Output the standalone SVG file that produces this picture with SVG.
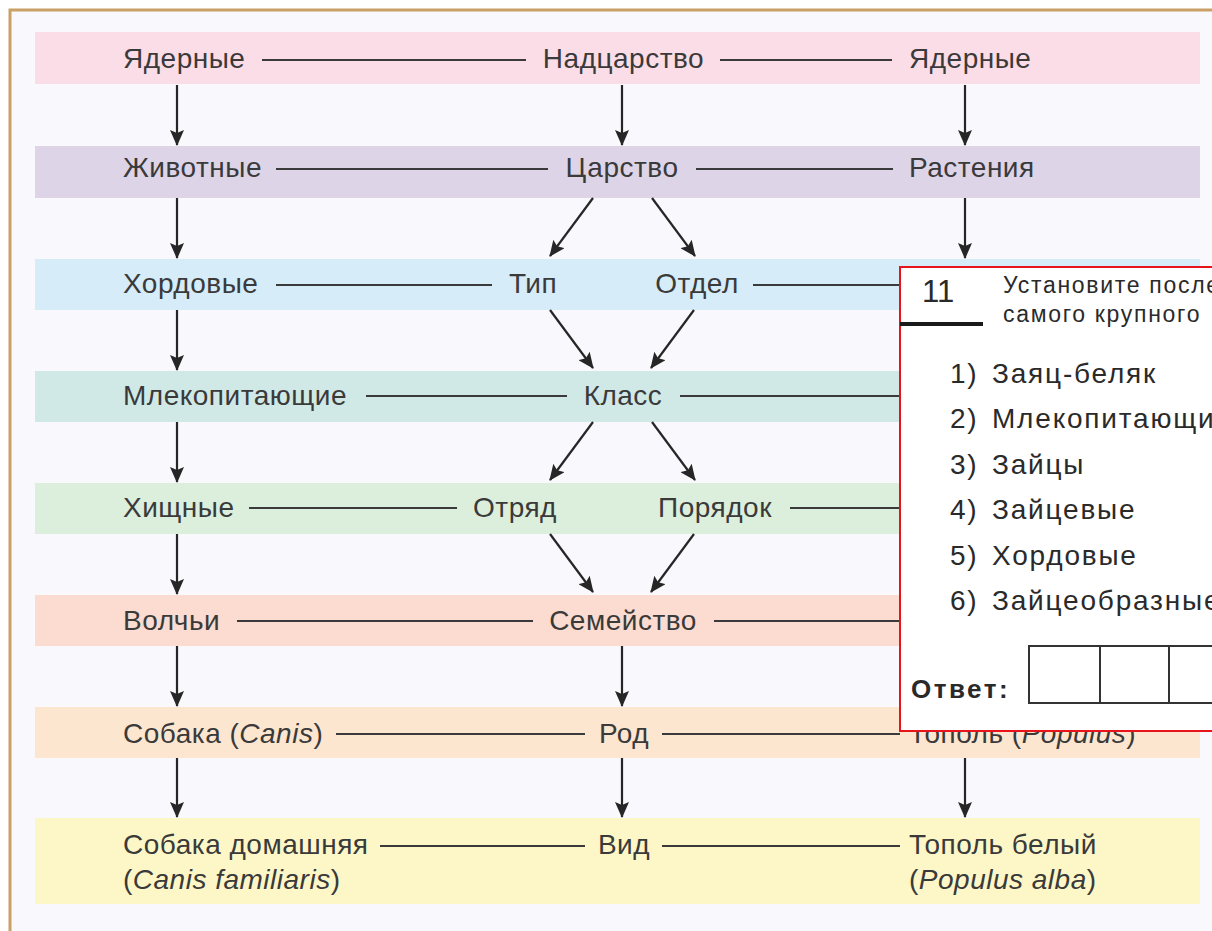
<svg xmlns="http://www.w3.org/2000/svg" width="1212" height="931" viewBox="0 0 1212 931">
<defs>
<marker id="ah" markerUnits="userSpaceOnUse" markerWidth="16" markerHeight="14" refX="15" refY="7" orient="auto">
<path d="M0,0 L16,7 L0,14 L3,7 z" fill="#262626"/>
</marker>
<style>
.t{font-family:"Liberation Sans",Arial,sans-serif;font-size:28px;letter-spacing:0.5px;fill:#3a3a3a}
.i{font-style:italic}
.h{stroke:#3a3a3a;stroke-width:2.2}
.a{stroke:#262626;stroke-width:2.2;fill:none;marker-end:url(#ah)}
.q{font-family:"Liberation Sans",Arial,sans-serif;fill:#2a2a2a}
.hd{font-size:23px;letter-spacing:1.7px}
.li{font-size:28px;letter-spacing:1.8px}
</style>
</defs>
<rect x="0" y="0" width="1212" height="931" fill="#ffffff"/>
<rect x="10" y="10" width="1202" height="921" fill="#f9f8fc"/>
<path d="M10,931 L10,10 L1212,10" fill="none" stroke="#c9a066" stroke-width="3"/>

<g id="bands">
<rect x="35" y="32" width="1165" height="52" fill="#fbdde8"/>
<rect x="35" y="146" width="1165" height="52" fill="#ded4e8"/>
<rect x="35" y="259" width="1165" height="51" fill="#d6ecf8"/>
<rect x="35" y="371" width="1165" height="51" fill="#d0e9e7"/>
<rect x="35" y="483" width="1165" height="51" fill="#dcefdc"/>
<rect x="35" y="595" width="1165" height="51" fill="#fcdcd0"/>
<rect x="35" y="707" width="1165" height="51" fill="#fde6d0"/>
<rect x="35" y="818" width="1165" height="86" fill="#fdf7c8"/>
</g>

<g id="connectors">
<line class="h" x1="262" y1="60" x2="526" y2="60"/>
<line class="h" x1="720" y1="60" x2="892" y2="60"/>
<line class="h" x1="276" y1="169" x2="548" y2="169"/>
<line class="h" x1="696" y1="169" x2="893" y2="169"/>
<line class="h" x1="276" y1="285" x2="492" y2="285"/>
<line class="h" x1="753" y1="285" x2="900" y2="285"/>
<line class="h" x1="366" y1="396" x2="567" y2="396"/>
<line class="h" x1="680" y1="396" x2="900" y2="396"/>
<line class="h" x1="249" y1="508" x2="457" y2="508"/>
<line class="h" x1="790" y1="508" x2="900" y2="508"/>
<line class="h" x1="237" y1="621" x2="533" y2="621"/>
<line class="h" x1="714" y1="621" x2="900" y2="621"/>
<line class="h" x1="336" y1="734" x2="585" y2="734"/>
<line class="h" x1="662" y1="734" x2="900" y2="734"/>
<line class="h" x1="380" y1="846" x2="585" y2="846"/>
<line class="h" x1="662" y1="846" x2="900" y2="846"/>

<line class="a" x1="177" y1="85" x2="177" y2="145"/>
<line class="a" x1="177" y1="198" x2="177" y2="258"/>
<line class="a" x1="177" y1="310" x2="177" y2="370"/>
<line class="a" x1="177" y1="422" x2="177" y2="482"/>
<line class="a" x1="177" y1="534" x2="177" y2="594"/>
<line class="a" x1="177" y1="646" x2="177" y2="706"/>
<line class="a" x1="177" y1="758" x2="177" y2="817"/>

<line class="a" x1="622" y1="85" x2="622" y2="145"/>
<line class="a" x1="622" y1="646" x2="622" y2="706"/>
<line class="a" x1="622" y1="758" x2="622" y2="817"/>

<line class="a" x1="965" y1="85" x2="965" y2="145"/>
<line class="a" x1="965" y1="198" x2="965" y2="258"/>
<line class="a" x1="965" y1="758" x2="965" y2="817"/>

<line class="a" x1="593" y1="198" x2="550" y2="256"/>
<line class="a" x1="652" y1="198" x2="695" y2="256"/>
<line class="a" x1="550" y1="310" x2="593" y2="368"/>
<line class="a" x1="694" y1="310" x2="651" y2="368"/>
<line class="a" x1="593" y1="422" x2="550" y2="480"/>
<line class="a" x1="652" y1="422" x2="695" y2="480"/>
<line class="a" x1="550" y1="534" x2="593" y2="592"/>
<line class="a" x1="694" y1="534" x2="651" y2="592"/>
</g>

<g id="n-yadernye-l"><text class="t" x="123" y="68">Ядерные</text></g>
<g id="n-nadtsarstvo"><text class="t" x="623.5" y="68" text-anchor="middle">Надцарство</text></g>
<g id="n-yadernye-r"><text class="t" x="909" y="68">Ядерные</text></g>

<g id="n-zhivotnye"><text class="t" x="123" y="177">Животные</text></g>
<g id="n-tsarstvo"><text class="t" x="622" y="177" text-anchor="middle">Царство</text></g>
<g id="n-rasteniya"><text class="t" x="909" y="177">Растения</text></g>

<g id="n-khordovye"><text class="t" x="123" y="293">Хордовые</text></g>
<g id="n-tip"><text class="t" x="533" y="293" text-anchor="middle">Тип</text></g>
<g id="n-otdel"><text class="t" x="697" y="293" text-anchor="middle">Отдел</text></g>

<g id="n-mlekopitayushchie"><text class="t" x="123" y="405">Млекопитающие</text></g>
<g id="n-klass"><text class="t" x="623" y="405" text-anchor="middle">Класс</text></g>

<g id="n-khishchnye"><text class="t" x="123" y="517">Хищные</text></g>
<g id="n-otryad"><text class="t" x="515" y="517" text-anchor="middle">Отряд</text></g>
<g id="n-poryadok"><text class="t" x="715" y="517" text-anchor="middle">Порядок</text></g>

<g id="n-volchi"><text class="t" x="123" y="630">Волчьи</text></g>
<g id="n-semeystvo"><text class="t" x="623" y="630" text-anchor="middle">Семейство</text></g>

<g id="n-sobaka"><text class="t" x="123" y="743">Собака (<tspan class="i">Canis</tspan>)</text></g>
<g id="n-rod"><text class="t" x="624" y="743" text-anchor="middle">Род</text></g>
<g id="n-topol"><text class="t" x="909" y="743">Тополь (<tspan class="i">Populus</tspan>)</text></g>

<g id="n-sobaka-dom"><text class="t" x="123" y="854">Собака домашняя</text><text class="t" x="123" y="889">(<tspan class="i">Canis familiaris</tspan>)</text></g>
<g id="n-vid"><text class="t" x="624" y="854" text-anchor="middle">Вид</text></g>
<g id="n-topol-bel"><text class="t" x="909" y="854">Тополь белый</text><text class="t" x="909" y="889">(<tspan class="i">Populus alba</tspan>)</text></g>

<g id="task-box">
<rect x="900" y="267" width="330" height="464" fill="#ffffff" stroke="#e8141b" stroke-width="2"/>
<text class="q" x="922" y="302" font-size="31">11</text>
<line x1="900" y1="324" x2="983" y2="324" stroke="#1a1a1a" stroke-width="4"/>
<text class="q hd" x="1003" y="293">Установите после</text>
<text class="q hd" x="1003" y="322">самого крупного</text>
<text class="q li" x="950" y="383">1)</text><text class="q li" x="992" y="383">Заяц-беляк</text>
<text class="q li" x="950" y="428">2)</text><text class="q li" x="992" y="428">Млекопитающие</text>
<text class="q li" x="950" y="474">3)</text><text class="q li" x="992" y="474">Зайцы</text>
<text class="q li" x="950" y="519">4)</text><text class="q li" x="992" y="519">Зайцевые</text>
<text class="q li" x="950" y="565">5)</text><text class="q li" x="992" y="565">Хордовые</text>
<text class="q li" x="950" y="610">6)</text><text class="q li" x="992" y="610">Зайцеобразные</text>
<text class="q" x="911" y="698" font-size="26" font-weight="bold" letter-spacing="2.5">Ответ:</text>
<rect x="1029" y="646" width="220" height="57" fill="none" stroke="#333" stroke-width="2"/>
<line x1="1100" y1="646" x2="1100" y2="703" stroke="#333" stroke-width="2"/>
<line x1="1169" y1="646" x2="1169" y2="703" stroke="#333" stroke-width="2"/>
</g>
</svg>
